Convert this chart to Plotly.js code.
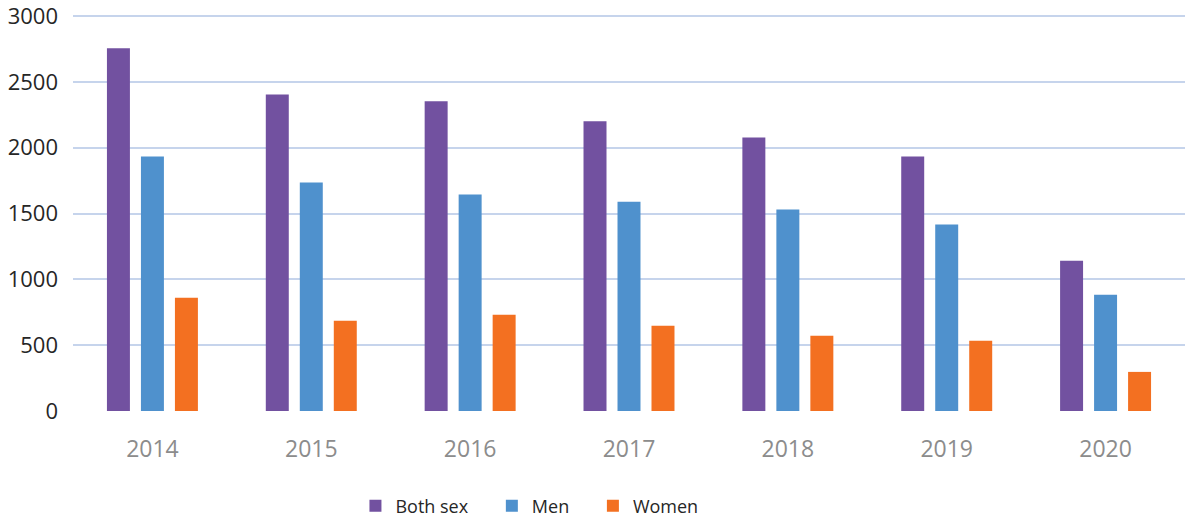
<!DOCTYPE html>
<html>
<head>
<meta charset="utf-8">
<script src="https://cdn.plot.ly/plotly-3.0.1.min.js"></script>
<style>html,body{margin:0;padding:0;background:#fff;}#chart{width:1185px;height:520px;}</style>
</head>
<body>
<div id="chart"></div>
<script>
const years = ["2014", "2015", "2016", "2017", "2018", "2019", "2020"];
const bothSex = [2755, 2405, 2352, 2200, 2078, 1933, 1142];
const men = [1933, 1736, 1645, 1590, 1530, 1416, 883];
const women = [860, 686, 731, 647, 572, 533, 297];
const seriesNames = ["Both sex", "Men", "Women"];
const colors = ["#7251a0", "#4f91cd", "#f37021"];
const yTicks = [0, 500, 1000, 1500, 2000, 2500, 3000];

const pad = "\u00a0\u00a0\u00a0\u00a0";
const traces = [bothSex, men, women].map((vals, i) => ({
  type: "bar",
  name: seriesNames[i] + (i < 2 ? pad : ""),
  x: years,
  y: vals,
  marker: {color: colors[i], line: {width: 0}},
  hoverinfo: "x+y"
}));

const layout = {
  width: 1185,
  height: 520,
  margin: {l: 73, r: 0, t: 15, b: 109, autoexpand: false},
  paper_bgcolor: "#ffffff",
  plot_bgcolor: "#ffffff",
  barmode: "group",
  bargap: 0.358,
  bargroupgap: 0.324,
  font: {family: "Open Sans, Noto Sans, sans-serif"},
  xaxis: {
    type: "category",
    showgrid: false,
    zeroline: false,
    showline: false,
    ticks: "",
    tickfont: {size: 23, color: "#8c8c8c"},
    ticklabelstandoff: 22
  },
  yaxis: {
    range: [0, 3008],
    tickvals: yTicks,
    ticktext: yTicks.map(String),
    showgrid: true,
    gridcolor: "#c6d4ec",
    gridwidth: 2,
    zeroline: false,
    showline: false,
    ticks: "",
    tickfont: {size: 22, color: "#262626"},
    ticklabelstandoff: 14,
    ticklabeloverflow: "allow"
  },
  showlegend: true,
  legend: {
    orientation: "h",
    x: 0.254,
    xanchor: "left",
    y: -0.24,
    yanchor: "middle",
    font: {size: 18, color: "#262626"},
    itemwidth: 30,
    traceorder: "normal"
  }
};

Plotly.newPlot("chart", traces, layout, {displayModeBar: false, staticPlot: true});
</script>
</body>
</html>
